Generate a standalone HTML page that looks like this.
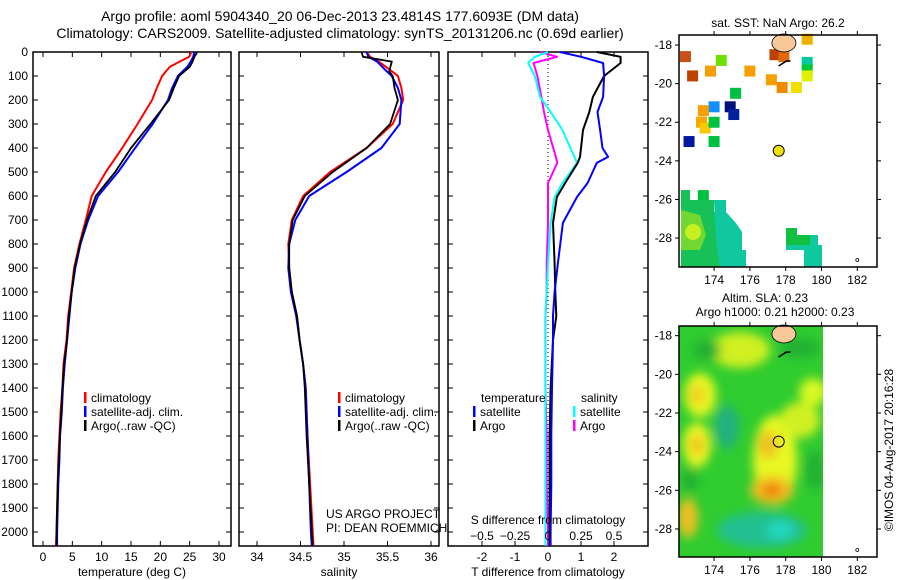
<!DOCTYPE html>
<html><head><meta charset="utf-8"><style>
body{margin:0;background:#fff}
svg{display:block;font-family:"Liberation Sans",sans-serif}
text{fill:#000}
</style></head><body>
<svg id="fig" width="900" height="580" viewBox="0 0 900 580" xmlns="http://www.w3.org/2000/svg">
<defs>
<filter id="blur" x="-50%" y="-50%" width="200%" height="200%"><feGaussianBlur stdDeviation="5"/></filter>
<clipPath id="clipSla"><rect x="679" y="326" width="144" height="231"/></clipPath>
</defs>
<text x="340" y="21" font-size="14" text-anchor="middle">Argo profile: aoml 5904340_20 06-Dec-2013 23.4814S 177.6093E (DM data)</text>
<text x="340" y="38" font-size="14" text-anchor="middle">Climatology: CARS2009. Satellite-adjusted climatology: synTS_20131206.nc (0.69d earlier)</text>
<g id="g"></g>
</svg>
<script>
// ---------- data ----------
const depthTicks=[0,100,200,300,400,500,600,700,800,900,1000,1100,1200,1300,1400,1500,1600,1700,1800,1900,2000];
const tDepth=[0,20,40,62,100,150,200,300,400,500,600,700,800,900,1000,1100,1200,1300,1400,1500,1600,1700,1800,1900,2000,2058];
const tClim=[25.3,24.9,23.3,21.6,20.3,19.4,18.6,16.1,13.5,10.7,8.3,7.3,6.2,5.3,4.8,4.3,4.0,3.5,3.3,3.0,2.8,2.6,2.5,2.4,2.3,2.2];
const tSat=[25.8,25.6,25.2,24.6,23.0,22.0,21.3,18.7,15.7,12.8,9.4,7.7,6.4,5.5,4.9,4.5,4.1,3.7,3.4,3.2,2.9,2.8,2.6,2.5,2.4,2.4];
const tArgo=[26.3,25.8,25.5,25.0,23.2,22.3,21.5,18.3,15.0,12.3,9.0,7.5,6.3,5.4,4.9,4.4,4.1,3.6,3.3,3.1,2.9,2.7,2.5,2.4,2.3,2.3];
const sDepth=[0,20,40,80,100,150,200,300,400,500,600,700,800,900,1000,1100,1200,1300,1400,1600,1800,2000,2058];
const sClim=[35.26,35.3,35.4,35.55,35.62,35.66,35.68,35.56,35.26,34.84,34.53,34.40,34.36,34.37,34.40,34.46,34.49,34.53,34.56,34.58,34.61,34.64,34.65];
const sSat=[35.26,35.28,35.38,35.49,35.55,35.62,35.66,35.64,35.43,35.03,34.60,34.44,34.37,34.36,34.39,34.45,34.49,34.53,34.56,34.58,34.60,34.62,34.63];
const sArgo=[35.2,35.22,35.55,35.52,35.56,35.58,35.62,35.53,35.26,34.87,34.55,34.41,34.37,34.37,34.40,34.46,34.49,34.53,34.55,34.57,34.60,34.63,34.64];
const dDepth=[0,20,46,100,187,250,325,400,437,462,546,604,712,880,1000,1100,1200,1400,1600,1800,2000,2058];
const dTSat=[0.36,1.0,1.67,1.7,1.67,1.5,1.58,1.65,1.82,1.48,1.2,0.88,0.45,0.3,0.2,0.15,0.15,0.12,0.1,0.1,0.08,0.08];
const dTArgo=[1.48,2.2,2.2,1.7,1.36,1.25,1.06,1.0,0.97,0.9,0.52,0.27,0.15,0.2,0.22,0.25,0.15,0.08,0.05,0.05,0.05,0.05];
const dSSat=[0,-0.1,-0.15,-0.1,-0.06,0.02,0.11,0.17,0.2,0.22,0.11,0.05,0.02,0,-0.01,-0.02,-0.02,-0.02,-0.02,-0.02,-0.02,-0.02];
const dSArgo=[-0.06,0.07,-0.11,-0.08,-0.05,-0.03,0,0.04,0.06,0.07,0,0,0,-0.01,-0.01,-0.02,-0.02,-0.02,-0.01,-0.01,0,0];
const tTicks=[0,5,10,15,20,25,30];
const sTicks=[34,34.5,35,35.5,36];
const dTTicks=[-2,-1,0,1,2];
const dSTicks=[-0.5,-0.25,0,0.25,0.5];
const lonTicks=[174,176,178,180,182];
const latTicks=[-18,-20,-22,-24,-26,-28];
const sstLon=[172.4,174.4,172.8,173.8,176.0,177.4,177.9,179.2,179.2,179.2,179.2,177.2,177.8,178.6,175.2,174.9,175.1,174.0,173.4,173.3,173.5,174.0,172.6,174.0,173.4];
const sstLat=[-18.6,-18.8,-19.6,-19.35,-19.35,-18.5,-18.6,-17.7,-18.9,-19.3,-19.6,-19.8,-20.2,-20.2,-20.5,-21.2,-21.6,-21.2,-21.4,-22.0,-22.3,-22.0,-23.0,-23.0,-25.8];
const sstCol=["#c85018","#70e000","#c04000","#f5a000","#f5a000","#c04000","#e06808","#f0b000","#00c8a0","#00c830","#e0f000","#f5a000","#f08800","#f0e000","#00c040","#001078","#0020a0","#1090ff","#f5a000","#f5a800","#f8c800","#00c040","#0018a0","#00c040","#00c040"];
const argoLon=177.61, argoLat=-23.48;

// ---------- helpers ----------
const NS="http://www.w3.org/2000/svg";
const G=document.getElementById('g');
function el(tag,attrs,parent){const e=document.createElementNS(NS,tag);for(const k in attrs)e.setAttribute(k,attrs[k]);(parent||G).appendChild(e);return e;}
function txt(s,x,y,attrs){const e=el('text',Object.assign({x:x,y:y,'font-size':12},attrs||{}));e.textContent=s;return e;}
const Y0=52,Y1=546,yD=d=>52+d*0.24;
function lin(d0,d1,r0,r1){return v=>r0+(v-d0)*(r1-r0)/(d1-d0);}

const panels=[
 {name:'temperature-panel',x0:33,x1:231,xs:lin(0,30,43,219),ticks:tTicks,lab:'temperature (deg C)'},
 {name:'salinity-panel',x0:239,x1:439,xs:lin(34,36,257,431),ticks:sTicks,lab:'salinity'},
 {name:'difference-panel',x0:448,x1:648,xs:lin(0,2,548,614),ticks:dTTicks,lab:'T difference from climatology'}
];
panels.forEach((p,i)=>{
 const r=el('rect',{x:p.x0,y:Y0,width:p.x1-p.x0,height:Y1-Y0,fill:'none',stroke:'#000','stroke-width':1.5});
 
 
 depthTicks.forEach(d=>{
  el('line',{x1:p.x0,x2:p.x0+5,y1:yD(d),y2:yD(d),stroke:'#000'});
  el('line',{x1:p.x1-5,x2:p.x1,y1:yD(d),y2:yD(d),stroke:'#000'});
 });
 p.ticks.forEach(v=>{
  const x=p.xs(v);
  el('line',{x1:x,x2:x,y1:Y0,y2:Y0+5,stroke:'#000'});
  el('line',{x1:x,x2:x,y1:Y1-5,y2:Y1,stroke:'#000'});
  const t=txt(String(v),x,561,{'text-anchor':'middle'});
  
  
 });
 const xt=txt(p.lab,(p.x0+p.x1)/2,576,{'text-anchor':'middle'});
 
 
});
depthTicks.forEach(d=>{
 const t=txt(String(d),28,yD(d)+4,{'text-anchor':'end'});
 
 
});
function prof(depths,vals,xs,col,name,w){
 const pts=depths.map((d,i)=>xs(vals[i]).toFixed(1)+','+yD(d).toFixed(1)).join(' ');
 const pl=el('polyline',{points:pts,fill:'none',stroke:col,'stroke-width':w||2,'stroke-linejoin':'round'});
 
 
}
const P=panels;
prof(tDepth,tClim,P[0].xs,'#f00','temp-climatology-line');
prof(tDepth,tSat,P[0].xs,'#00f','temp-satellite-line');
prof(tDepth,tArgo,P[0].xs,'#000','temp-argo-line',1.8);
prof(sDepth,sClim,P[1].xs,'#f00','sal-climatology-line');
prof(sDepth,sSat,P[1].xs,'#00f','sal-satellite-line');
prof(sDepth,sArgo,P[1].xs,'#000','sal-argo-line',1.8);
el('line',{x1:548,x2:548,y1:Y0,y2:Y1,stroke:'#000','stroke-dasharray':'1,3'});
const sx=lin(0,0.5,548,614);
prof(dDepth,dSArgo,sx,'#f0f','sal-diff-argo-line');
prof(dDepth,dSSat,sx,'#0ff','sal-diff-satellite-line');
prof(dDepth,dTArgo,P[2].xs,'#000','temp-diff-argo-line');
prof(dDepth,dTSat,P[2].xs,'#00f','temp-diff-satellite-line');
dSTicks.forEach(v=>{const t=txt(v===0?'0':String(v).replace('-','\u2212'),sx(v),540,{'text-anchor':'middle'});
 
 });
const st=txt('S difference from climatology',548,524,{'text-anchor':'middle'});



function leg(x,y,col,label){
 el('rect',{x:x,y:y-10,width:2.5,height:11,fill:col});
 const t=txt(label,x+7,y);
 
 
}
[[84,'#f00','climatology'],[84,'#00f','satellite-adj. clim.'],[84,'#000','Argo(..raw -QC)']].forEach((l,i)=>{leg(l[0],402+i*14,l[1],l[2]);leg(338,402+i*14,l[1],l[2]);});
txt('temperature',481,402);
leg(473,416,'#00f','satellite');leg(473,430,'#000','Argo');
txt('salinity',581,402);
leg(573,416,'#0ff','satellite');leg(573,430,'#f0f','Argo');
txt('US ARGO PROJECT',326,518);
txt('PI: DEAN ROEMMICH',326,532);

// ---------- maps ----------
function map(y0,y1,latTop,latBot,name){
 const lx=lin(172.04,183.1,679,877), ly=lin(latTop,latBot,y0,y1);
 return {lx,ly,y0,y1,name};
}
const m1=map(35,267,-17.48,-29.5,'sst-map');
const m2=map(326,557,-17.5,-29.45,'sla-map');
const sg=el('g',{'clip-path':'url(#clipSla)'});
el('rect',{x:679,y:326,width:144,height:231,fill:'#30cc30'},sg);
const bg=el('g',{filter:'url(#blur)'},sg);
[[740,350,30,18,'#d0f020'],[700,395,16,22,'#e8f820'],[697,395,8,10,'#f0d020'],[697,445,14,22,'#f0f820'],[697,445,7,10,'#f0c020'],
 [775,460,22,45,'#e8f820'],[768,445,10,14,'#f0c020'],[772,490,22,14,'#f0c020'],[772,490,10,7,'#f08000'],[688,518,10,20,'#f0c020'],
 [813,392,14,14,'#d8f820'],[800,420,20,18,'#d0f020'],[727,427,12,22,'#20b080'],[762,530,45,18,'#20c090'],[780,530,14,9,'#20d8c0'],
 [707,350,14,10,'#20b030'],[800,348,20,10,'#20b030'],[690,480,8,12,'#20b030'],[815,470,10,20,'#20b030']].forEach(b=>{
 el('ellipse',{cx:b[0],cy:b[1],rx:b[2],ry:b[3],fill:b[4]},bg);
});
sstLon.forEach((lo,i)=>{
 const r=el('rect',{x:m1.lx(lo)-5.5,y:m1.ly(sstLat[i])-5.5,width:11,height:11,fill:sstCol[i]});
 
 
});
el('polygon',{points:'681,190 690,190 690,200 714,200 714,212 726,212 726,222 735,222 742,232 742,250 746,250 746,267 681,267',fill:'#18c058'});
el('polygon',{points:'681,210 700,215 706,235 700,250 681,250',fill:'#70d830'});
el('ellipse',{cx:693,cy:232,rx:8,ry:8,fill:'#c8f020'});
el('polygon',{points:'714,200 726,200 726,212 735,222 742,232 742,250 746,250 746,267 720,267 716,240',fill:'#10c8a0'});
el('polygon',{points:'786,228 797,228 797,235 818,235 818,245 822,245 822,267 804,267 804,250 786,250',fill:'#10c8a0'});
el('polygon',{points:'786,228 797,228 797,235 810,235 810,245 786,245',fill:'#10c040'});
[m1,m2].forEach(m=>{
 el('ellipse',{cx:m.lx(177.9),cy:m.y0+8,rx:12,ry:9,fill:'#f8c898',stroke:'#000','stroke-width':0.8});
 el('path',{d:`M${m.lx(177.6)} ${m.y0+31} l8 -5 l4 0`,stroke:'#000','stroke-width':1.5,fill:'none'});
 el('circle',{cx:m.lx(182),cy:m.y1-7,r:1.5,fill:'none',stroke:'#000','stroke-width':0.8});
 const c=el('circle',{cx:m.lx(argoLon),cy:m.ly(argoLat),r:5.5,fill:m===m1?'#f0e000':'none',stroke:'#000','stroke-width':1});
 
 
 const fr=el('rect',{x:679,y:m.y0,width:198,height:m.y1-m.y0,fill:'none',stroke:'#000','stroke-width':1.5});
 
 
 lonTicks.forEach(lo=>{const x=m.lx(lo);
  el('line',{x1:x,x2:x,y1:m.y0-4,y2:m.y0,stroke:'#000'});
  el('line',{x1:x,x2:x,y1:m.y1,y2:m.y1+4,stroke:'#000'});
  const t=txt(String(lo),x,m.y1+17,{'text-anchor':'middle'});
  
  
 });
 latTicks.forEach(la=>{const y=m.ly(la);
  el('line',{x1:675,x2:679,y1:y,y2:y,stroke:'#000'});
  el('line',{x1:877,x2:881,y1:y,y2:y,stroke:'#000'});
  const t=txt(String(la),672,y+4,{'text-anchor':'end'});
  
  
 });
});
txt('sat. SST: NaN Argo: 26.2',778,27,{'text-anchor':'middle'});
txt('Altim. SLA: 0.23',765,302,{'text-anchor':'middle'});
txt('Argo h1000: 0.21 h2000: 0.23',775,316,{'text-anchor':'middle'});
const cp=txt('\u00a9IMOS 04-Aug-2017 20:16:28',893,450,{'text-anchor':'middle',transform:'rotate(-90 893 450)'});


</script>
</body></html>
